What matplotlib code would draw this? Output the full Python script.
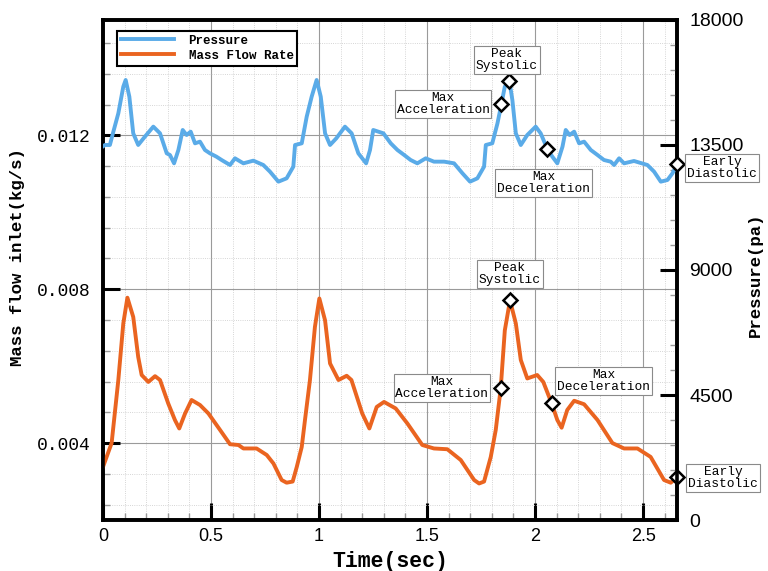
import matplotlib
matplotlib.use("Agg")
import matplotlib.pyplot as plt
from matplotlib.ticker import MultipleLocator, FormatStrFormatter

# mass flow rate (kg/s) vs time (sec)
t_flow = [0.0, 0.04, 0.071, 0.094, 0.113, 0.14, 0.163, 0.179, 0.21, 0.241, 0.264, 0.302,
          0.333, 0.353, 0.38, 0.41, 0.449, 0.488, 0.542, 0.588, 0.627, 0.65, 0.711, 0.758,
          0.789, 0.827, 0.85, 0.878, 0.897, 0.92, 0.935, 0.958, 0.981, 1.0015, 1.028, 1.051,
          1.09, 1.128, 1.15, 1.2, 1.233, 1.267, 1.301, 1.355, 1.409, 1.478, 1.532, 1.594,
          1.656, 1.718, 1.741, 1.764, 1.795, 1.818, 1.841, 1.86, 1.884, 1.911, 1.934, 1.964,
          2.01, 2.038, 2.077, 2.103, 2.123, 2.149, 2.181, 2.227, 2.289, 2.358, 2.412, 2.474,
          2.535, 2.597, 2.628, 2.659]
flow = [0.00338, 0.0040, 0.00564, 0.00711, 0.00778, 0.00728, 0.00624, 0.00577, 0.00559,
        0.00574, 0.00564, 0.00503, 0.0046, 0.00438, 0.00477, 0.00512, 0.00499, 0.00477,
        0.00434, 0.00397, 0.00395, 0.00386, 0.00386, 0.00369, 0.00347, 0.00304, 0.00297,
        0.00300, 0.00338, 0.0039, 0.0046, 0.00564, 0.00702, 0.00776, 0.00719, 0.00607,
        0.00564, 0.00575, 0.00564, 0.00477, 0.00438, 0.00494, 0.00507, 0.0049, 0.00451,
        0.00395, 0.00386, 0.00384, 0.00356, 0.00304, 0.00295, 0.0030, 0.00364, 0.00434,
        0.00542, 0.00693, 0.00771, 0.00711, 0.00616, 0.00568, 0.00577, 0.00559, 0.00503,
        0.0046, 0.0044, 0.00486, 0.0051, 0.00501, 0.0046, 0.0040, 0.00386, 0.00386,
        0.00364, 0.00304, 0.00297, 0.00312]

# inlet pressure (pa) vs time (sec)
t_pres = [0.0, 0.009, 0.032, 0.048, 0.071, 0.094, 0.105, 0.122, 0.14, 0.163, 0.194, 0.233,
          0.264, 0.295, 0.31, 0.329, 0.349, 0.369, 0.387, 0.406, 0.426, 0.449, 0.472, 0.495,
          0.525, 0.549, 0.588, 0.611, 0.65, 0.696, 0.742, 0.773, 0.812, 0.85, 0.881, 0.889,
          0.92, 0.943, 0.966, 0.989, 1.008, 1.028, 1.051, 1.08, 1.12, 1.151, 1.182, 1.218,
          1.236, 1.251, 1.298, 1.332, 1.363, 1.394, 1.424, 1.455, 1.494, 1.532, 1.579, 1.625,
          1.664, 1.699, 1.733, 1.764, 1.772, 1.802, 1.826, 1.844, 1.86, 1.881, 1.895, 1.911,
          1.934, 1.964, 2.003, 2.026, 2.057, 2.08, 2.103, 2.127, 2.142, 2.16, 2.181, 2.204,
          2.227, 2.258, 2.289, 2.319, 2.35, 2.366, 2.389, 2.412, 2.458, 2.52, 2.551, 2.582,
          2.613, 2.636, 2.659]
pres = [13450, 13500, 13500, 13980, 14640, 15600, 15840, 15240, 13920, 13500, 13800, 14160,
        13920, 13200, 13140, 12840, 13320, 14040, 13860, 13980, 13560, 13620, 13320, 13200,
        13080, 12960, 12780, 13020, 12840, 12936, 12780, 12540, 12180, 12300, 12720, 13500,
        13560, 14520, 15240, 15840, 15240, 13920, 13500, 13740, 14160, 13920, 13200, 12840,
        13320, 14040, 13920, 13560, 13320, 13140, 12960, 12840, 13020, 12900, 12900, 12840,
        12480, 12180, 12300, 12720, 13500, 13560, 14280, 14964, 15600, 15804, 15120, 13920,
        13500, 13860, 14160, 13920, 13356, 13080, 12840, 13440, 14040, 13860, 13980, 13560,
        13620, 13320, 13140, 12960, 12900, 12780, 13020, 12840, 12924, 12780, 12540, 12180,
        12240, 12480, 12816]

# marked points of the third cycle
labels = ["Max\nAcceleration", "Peak\nSystolic", "Max\nDeceleration", "Early\nDiastolic"]
t_mark_p = [1.844, 1.881, 2.057, 2.659]
p_mark = [14964, 15804, 13356, 12816]
t_mark_f = [1.841, 1.884, 2.077, 2.659]
f_mark = [0.00542, 0.00771, 0.00503, 0.00312]

# label box centres
t_box_p = [1.574, 1.870, 2.039, 2.866]
p_box = [14976, 16560, 12132, 12672]
t_box_f = [1.569, 1.884, 2.317, 2.870]
f_box = [0.00543, 0.00839, 0.00561, 0.00309]

mono = "Liberation Mono"
sans = "Liberation Sans"
blue = "#5aabe8"
orange = "#ea6420"

fig = plt.figure(figsize=(7.68, 5.71), dpi=100)
ax = fig.add_axes([0.1341, 0.0893, 0.7474, 0.8757])
ax2 = ax.twinx()

l2, = ax.plot(t_flow, flow, color=orange, lw=2.8, label="Mass Flow Rate", zorder=3)
l1, = ax2.plot(t_pres, pres, color=blue, lw=2.8, label="Pressure", zorder=3)

ax.set_xlim(0, 2.657)
ax.set_ylim(0.002, 0.015)
ax2.set_ylim(0, 18000)

ax.xaxis.set_major_locator(MultipleLocator(0.5))
ax.xaxis.set_minor_locator(MultipleLocator(0.1))
ax.xaxis.set_major_formatter(FormatStrFormatter("%g"))
ax.yaxis.set_major_locator(MultipleLocator(0.004))
ax.yaxis.set_minor_locator(MultipleLocator(0.0008))
ax.yaxis.set_major_formatter(FormatStrFormatter("%.3f"))
ax2.yaxis.set_major_locator(MultipleLocator(4500))
ax2.yaxis.set_minor_locator(MultipleLocator(900))

ax.grid(which="major", color="#9a9a9a", lw=0.8, ls="-")
ax.grid(which="minor", color="#c8c8c8", lw=0.6, ls=":")
ax.set_axisbelow(True)

ax.tick_params(axis="x", which="major", direction="in", length=12, width=2.2,
               labelsize=13, pad=6, labelfontfamily=sans)
ax.tick_params(axis="x", which="minor", direction="in", length=5, width=1, color="#999999")
ax.tick_params(axis="y", which="major", direction="in", length=12, width=2.2,
               labelsize=13, pad=9, labelfontfamily=mono)
ax.tick_params(axis="y", which="minor", direction="in", length=5, width=1, color="#999999")
ax2.tick_params(axis="y", which="major", direction="in", length=12, width=2.2,
                labelsize=14, pad=9, labelfontfamily=sans)
ax2.tick_params(axis="y", which="minor", direction="in", length=5, width=1, color="#999999")

for a in (ax, ax2):
    for s in a.spines.values():
        s.set_linewidth(2.6)

ax.set_xlabel("Time(sec)", fontfamily=mono, fontweight="bold", fontsize=15.5, labelpad=4)
ax.set_ylabel("Mass flow inlet(kg/s)", fontfamily=mono, fontweight="bold", fontsize=12.5)
ax.yaxis.set_label_coords(-0.136, 0.526)
ax2.set_ylabel("Pressure(pa)", fontfamily=mono, fontweight="bold", fontsize=12.5)
ax2.yaxis.set_label_coords(1.124, 0.49)

box = dict(boxstyle="square,pad=0.15", fc="white", ec="#8a8a8a", lw=0.8)
for i in range(4):
    ax2.plot(t_mark_p[i], p_mark[i], "D", ms=7, mfc="white", mec="black", mew=1.8,
             zorder=5, clip_on=False)
    ax2.text(t_box_p[i], p_box[i], labels[i], ha="center", va="center", fontfamily=mono,
             fontsize=9.3, linespacing=1.0, bbox=box, zorder=6, clip_on=False)
    ax.plot(t_mark_f[i], f_mark[i], "D", ms=7, mfc="white", mec="black", mew=1.8,
            zorder=5, clip_on=False)
    ax.text(t_box_f[i], f_box[i], labels[i], ha="center", va="center", fontfamily=mono,
            fontsize=9.3, linespacing=1.0, bbox=box, zorder=6, clip_on=False)

leg = ax2.legend([l1, l2], ["Pressure", "Mass Flow Rate"], loc="upper left",
                 bbox_to_anchor=(0.025, 0.978), prop={"family": mono, "weight": "bold", "size": 9},
                 handlelength=4.2, fancybox=False, framealpha=1, edgecolor="black",
                 borderpad=0.3, labelspacing=0.25, handletextpad=1.2, borderaxespad=0)
leg.get_frame().set_linewidth(1.5)

fig.savefig("out.png", dpi=100)
